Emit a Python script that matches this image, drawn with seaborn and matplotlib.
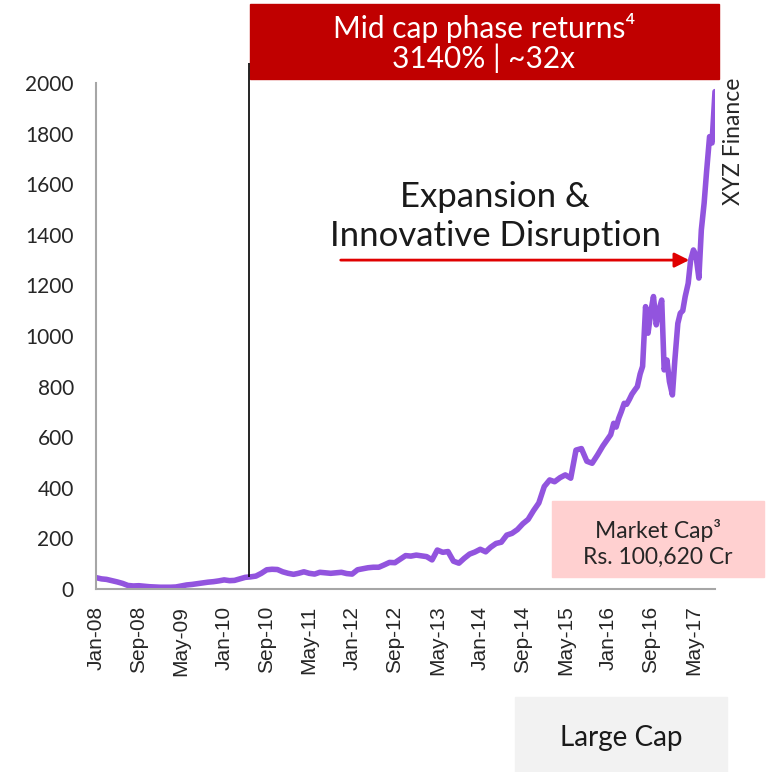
import pandas as pd
import numpy as np
import matplotlib
matplotlib.use('Agg')
import matplotlib.pyplot as plt
import matplotlib.dates as mdates
from matplotlib.patches import Rectangle
import seaborn as sns

# monthly closes Jan-08 .. Dec-15
monthly_dates = pd.date_range('2008-01-01', '2015-12-01', freq='MS')
monthly_values = [
    45, 40, 38, 33, 28, 22, 14, 12, 13, 11, 9, 8,            # 2008
    7, 7, 7, 8, 12, 16, 18, 21, 24, 27, 29, 32,              # 2009
    36, 33, 34, 40, 46, 48, 51, 62, 76, 78, 77, 68,          # 2010
    62, 58, 62, 68, 62, 59, 66, 64, 62, 64, 66, 61,          # 2011
    59, 76, 80, 84, 86, 86, 95, 105, 104, 118, 132, 130,     # 2012
    134, 131, 128, 115, 154, 145, 148, 110, 102, 121, 138, 146,  # 2013
    157, 147, 165, 180, 185, 213, 220, 235, 258, 275, 310, 340,  # 2014
    405, 431, 424, 440, 451, 438, 549, 555, 505, 497, 530, 565,  # 2015
]

# semi-monthly closes Jan-16 .. Sep-17 (more volatile stretch)
recent_dates = pd.date_range('2016-01-01', '2017-09-01', freq='SMS')
recent_values = [
    596, 610, 655, 640, 675, 700, 734, 730, 750, 770, 787, 800,
    850, 880, 1116, 1011, 1100, 1156, 1044, 1100, 1142, 866, 905, 820,
    767, 905, 1050, 1090, 1100, 1156, 1208, 1300, 1340, 1320, 1229, 1419,
    1525, 1650, 1788, 1763, 1966,
]

tick_dates = pd.date_range('2008-01-01', '2017-05-01', freq='8MS')
y_ticks = list(range(0, 2001, 200))

phase_start = pd.Timestamp('2010-05-25')
arrow_start = pd.Timestamp('2011-10-28')
arrow_end = pd.Timestamp('2017-04-07')
arrow_level = 1300

df = pd.DataFrame({
    'date': list(monthly_dates) + list(recent_dates),
    'price': monthly_values + recent_values,
})

sns.set_style('white')
plt.rcParams['font.family'] = ['Lato', 'DejaVu Sans']

W, H = 773, 772
fig = plt.figure(figsize=(W / 100, H / 100), dpi=100)
ax = fig.add_axes([96 / W, 1 - 589 / H, (715 - 96) / W, (589 - 83) / H])
ax.set_facecolor('none')

sns.lineplot(data=df, x='date', y='price', color='#9254DE', linewidth=4, ax=ax)

ax.set_xlim(pd.Timestamp('2008-01-01'), pd.Timestamp('2017-09-01'))
ax.set_ylim(0, 2000)
ax.set_yticks(y_ticks)
ax.set_xticks(tick_dates)
ax.xaxis.set_major_formatter(mdates.DateFormatter('%b-%y'))
ax.set_xlabel('')
ax.set_ylabel('')

ax.tick_params(axis='x', length=6, width=1.2, color='#A6A6A6', pad=6,
               labelsize=15, labelcolor='#262626', rotation=90)
ax.tick_params(axis='y', length=7, width=1.2, color='#A6A6A6', pad=9,
               labelsize=15, labelcolor='#262626')
for lab in ax.get_xticklabels():
    lab.set_family(['Liberation Sans', 'DejaVu Sans'])

sns.despine(ax=ax)
for side in ['left', 'bottom']:
    ax.spines[side].set_color('#A6A6A6')
    ax.spines[side].set_linewidth(1.5)

# start of mid cap phase
ax.vlines(phase_start, 47, 2080, color='black', linewidth=1.2, clip_on=False)

ax.annotate('', xy=(arrow_end, arrow_level), xytext=(arrow_start, arrow_level),
            arrowprops=dict(arrowstyle='-|>', color='#E00000', lw=2,
                            mutation_scale=22, shrinkA=0, shrinkB=0))

# boxes
fig.add_artist(Rectangle((250 / W, 1 - 79 / H), 469 / W, 75 / H,
                         transform=fig.transFigure, color='#C00000', zorder=-1))
fig.add_artist(Rectangle((552 / W, 1 - 577 / H), 212 / W, 76 / H,
                         transform=fig.transFigure, color='#FFD0D0', zorder=3))
fig.add_artist(Rectangle((515 / W, 0), 212 / W, 75 / H,
                         transform=fig.transFigure, color='#F2F2F2', zorder=3))

fig.text(484 / W, 1 - 28 / H, 'Mid cap phase returns⁴', color='white',
         fontsize=21.5, ha='center', va='center')
fig.text(484 / W, 1 - 58 / H, '3140% | ~32x', color='white',
         fontsize=21.5, ha='center', va='center')
fig.text(495 / W, 1 - 197 / H, 'Expansion &', color='#1A1A1A',
         fontsize=25, ha='center', va='center')
fig.text(495 / W, 1 - 236 / H, 'Innovative Disruption', color='#1A1A1A',
         fontsize=25, ha='center', va='center')
fig.text(733 / W, 1 - 141 / H, 'XYZ Finance', color='#262626',
         fontsize=16.5, ha='center', va='center', rotation=90)
fig.text(658 / W, 1 - 530 / H, 'Market Cap³', color='#262626',
         fontsize=16.5, ha='center', va='center', zorder=4)
fig.text(658 / W, 1 - 557 / H, 'Rs. 100,620 Cr', color='#262626',
         fontsize=16.5, ha='center', va='center', zorder=4)
fig.text(621 / W, 1 - 738 / H, 'Large Cap', color='#1A1A1A',
         fontsize=20, ha='center', va='center', zorder=4)

fig.savefig('out.png', dpi=100)
